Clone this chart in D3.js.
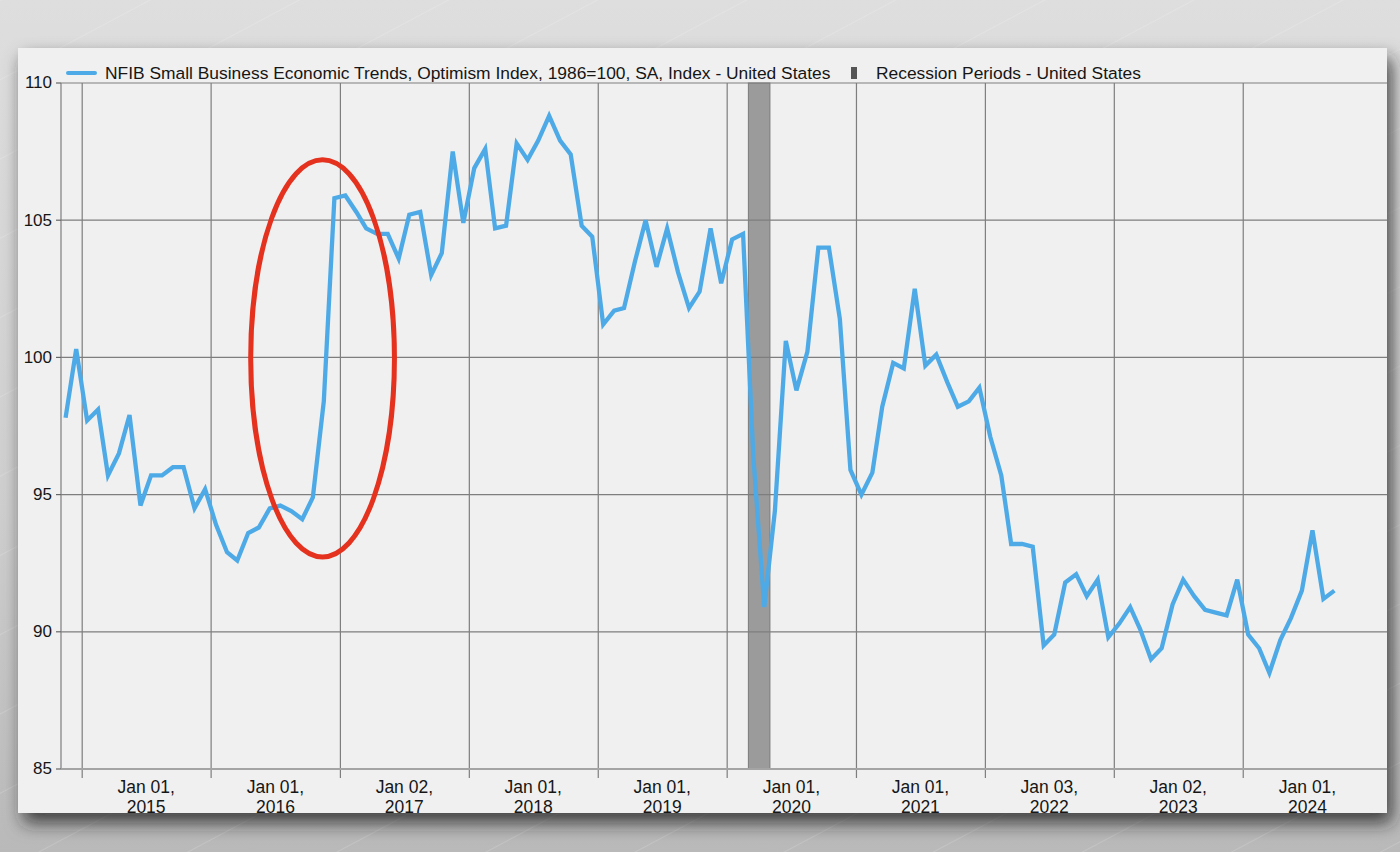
<!DOCTYPE html>
<html>
<head>
<meta charset="utf-8">
<script src="https://cdn.jsdelivr.net/npm/d3@7/dist/d3.min.js"></script>
<style>
  html, body { margin: 0; padding: 0; background: #d4d4d4; }
  svg { display: block; }
  text { font-family: "Liberation Sans", Arial, sans-serif; fill: #161616; }
</style>
</head>
<body>
<svg id="chart" width="1400" height="852"></svg>
<script>
// ---------------- DATA ----------------
const seriesName = "NFIB Small Business Economic Trends, Optimism Index, 1986=100, SA, Index - United States";
const recessionName = "Recession Periods - United States";
const firstMonth = "2014-11-15"; // monthly observations, plotted mid-month
const optimism = [
  97.8, 100.3,                                                          // 2014 Nov-Dec
  97.7, 98.1, 95.7, 96.5, 97.9, 94.6, 95.7, 95.7, 96.0, 96.0, 94.5, 95.2, // 2015
  93.9, 92.9, 92.6, 93.6, 93.8, 94.5, 94.6, 94.4, 94.1, 94.9, 98.4, 105.8, // 2016
  105.9, 105.3, 104.7, 104.5, 104.5, 103.6, 105.2, 105.3, 103.0, 103.8, 107.5, 104.9, // 2017
  106.9, 107.6, 104.7, 104.8, 107.8, 107.2, 107.9, 108.8, 107.9, 107.4, 104.8, 104.4, // 2018
  101.2, 101.7, 101.8, 103.5, 105.0, 103.3, 104.7, 103.1, 101.8, 102.4, 104.7, 102.7, // 2019
  104.3, 104.5, 96.4, 90.9, 94.4, 100.6, 98.8, 100.2, 104.0, 104.0, 101.4, 95.9,      // 2020
  95.0, 95.8, 98.2, 99.8, 99.6, 102.5, 99.7, 100.1, 99.1, 98.2, 98.4, 98.9,          // 2021
  97.1, 95.7, 93.2, 93.2, 93.1, 89.5, 89.9, 91.8, 92.1, 91.3, 91.9, 89.8,            // 2022
  90.3, 90.9, 90.1, 89.0, 89.4, 91.0, 91.9, 91.3, 90.8, 90.7, 90.6, 91.9,            // 2023
  89.9, 89.4, 88.5, 89.7, 90.5, 91.5, 93.7, 91.2, 91.5                               // 2024 Jan-Sep
];
const recessionStart = "2020-03-01";
const recessionEnd = "2020-05-01";
const xTickDates = ["2015-01-01","2016-01-01","2017-01-01","2018-01-01","2019-01-01",
                    "2020-01-01","2021-01-01","2022-01-01","2023-01-01","2024-01-01"];
const xTickLine1 = ["Jan 01,","Jan 01,","Jan 02,","Jan 01,","Jan 01,",
                    "Jan 01,","Jan 01,","Jan 03,","Jan 02,","Jan 01,"];
const xTickLine2 = ["2015","2016","2017","2018","2019","2020","2021","2022","2023","2024"];
const yTicks = [85, 90, 95, 100, 105, 110];
// annotation ellipse (data space): extents
const ellipseLeft = "2016-04-22", ellipseRight = "2017-06-03";
const ellipseTop = 107.2, ellipseBottom = 92.73;

// ---------------- DRAW ----------------
const parse = d3.utcParse("%Y-%m-%d");
const start = parse(firstMonth);
const data = optimism.map((v, i) => ({ date: d3.utcMonth.offset(start, i), value: v }));

const svg = d3.select("#chart");
const defs = svg.append("defs");

const bg = defs.append("linearGradient").attr("id", "bg").attr("x1", 0).attr("y1", 0).attr("x2", 0).attr("y2", 1);
bg.append("stop").attr("offset", "0%").attr("stop-color", "#dedede");
bg.append("stop").attr("offset", "60%").attr("stop-color", "#cecece");
bg.append("stop").attr("offset", "100%").attr("stop-color", "#b9b9b9");

const pat = defs.append("pattern").attr("id", "lines").attr("width", 70).attr("height", 70)
  .attr("patternUnits", "userSpaceOnUse").attr("patternTransform", "rotate(-28)");
pat.append("line").attr("x1", 0).attr("y1", 0).attr("x2", 70).attr("y2", 0)
  .attr("stroke", "#ffffff").attr("stroke-opacity", 0.3).attr("stroke-width", 1);

const sh = defs.append("filter").attr("id", "shadow").attr("x", "-5%").attr("y", "-5%").attr("width", "112%").attr("height", "120%");
sh.append("feDropShadow").attr("dx", 5).attr("dy", 10).attr("stdDeviation", 9)
  .attr("flood-color", "#222").attr("flood-opacity", 0.8);

svg.append("rect").attr("width", 1400).attr("height", 852).attr("fill", "url(#bg)");
svg.append("rect").attr("width", 1400).attr("height", 852).attr("fill", "url(#lines)");

const panel = { x: 18, y: 48, w: 1369, h: 765 };
svg.append("rect").attr("x", panel.x).attr("y", panel.y).attr("width", panel.w).attr("height", panel.h)
  .attr("fill", "#f0f0f0").attr("filter", "url(#shadow)");

const clip = defs.append("clipPath").attr("id", "panelClip");
clip.append("rect").attr("x", panel.x).attr("y", panel.y).attr("width", panel.w).attr("height", panel.h);
const g = svg.append("g").attr("clip-path", "url(#panelClip)");

const plot = { left: 61, right: 1387, top: 83, bottom: 769 };
const x = d3.scaleUtc().domain([parse("2014-11-02"), parse("2025-02-11")]).range([plot.left, plot.right]);
const y = d3.scaleLinear().domain([85, 110]).range([plot.bottom, plot.top]);

const gridColor = "#7e7e7e";

// recession band
g.append("rect")
  .attr("x", x(parse(recessionStart))).attr("width", x(parse(recessionEnd)) - x(parse(recessionStart)))
  .attr("y", plot.top).attr("height", plot.bottom - plot.top)
  .attr("fill", "#9b9b9b").attr("stroke", "#7a7a7a").attr("stroke-width", 1);

// horizontal gridlines
g.append("g").selectAll("line").data(yTicks.filter(t => t !== 85)).join("line")
  .attr("x1", plot.left).attr("x2", plot.right)
  .attr("y1", d => y(d)).attr("y2", d => y(d))
  .attr("stroke", gridColor).attr("stroke-width", 1.2);

// vertical gridlines (extend below axis as ticks)
const tickDates = xTickDates.map(parse);
g.append("g").selectAll("line").data(tickDates).join("line")
  .attr("x1", d => x(d)).attr("x2", d => x(d))
  .attr("y1", plot.top).attr("y2", plot.bottom + 9)
  .attr("stroke", gridColor).attr("stroke-width", 1.2);

// axes lines
g.append("line").attr("x1", plot.left).attr("x2", plot.left).attr("y1", plot.top).attr("y2", plot.bottom)
  .attr("stroke", gridColor).attr("stroke-width", 1.2);
g.append("line").attr("x1", plot.left).attr("x2", plot.right).attr("y1", plot.bottom).attr("y2", plot.bottom)
  .attr("stroke", "#a4a4a4").attr("stroke-width", 2);

// y ticks + labels
const yAx = g.append("g");
yAx.selectAll("line").data(yTicks).join("line")
  .attr("x1", plot.left - 5).attr("x2", plot.left).attr("y1", d => y(d)).attr("y2", d => y(d))
  .attr("stroke", "#666").attr("stroke-width", 1.2);
yAx.selectAll("text").data(yTicks).join("text")
  .attr("x", plot.left - 9).attr("y", d => y(d)).attr("dy", "0.32em")
  .attr("text-anchor", "end").attr("font-size", 17).text(d => d);

// x labels (centered mid-period)
const xl = g.append("g");
tickDates.forEach((d, i) => {
  const cx = x(d3.utcMonth.offset(d, 6));
  const t = xl.append("text").attr("x", cx).attr("text-anchor", "middle").attr("font-size", 17.5);
  t.append("tspan").attr("x", cx).attr("y", 793).text(xTickLine1[i]);
  t.append("tspan").attr("x", cx).attr("y", 813).text(xTickLine2[i]);
});

// series line
const line = d3.line().x(d => x(d.date)).y(d => y(d.value)).curve(d3.curveLinear);
g.append("path").datum(data).attr("d", line)
  .attr("fill", "none").attr("stroke", "#4daae6").attr("stroke-width", 4.3)
  .attr("stroke-linejoin", "miter").attr("stroke-linecap", "butt");

// annotation ellipse
const exL = x(parse(ellipseLeft)), exR = x(parse(ellipseRight));
const eyT = y(ellipseTop), eyB = y(ellipseBottom);
g.append("ellipse")
  .attr("cx", (exL + exR) / 2).attr("cy", (eyT + eyB) / 2)
  .attr("rx", (exR - exL) / 2).attr("ry", (eyB - eyT) / 2)
  .attr("fill", "none").attr("stroke", "#e4321f").attr("stroke-width", 5);

// legend
const lg = g.append("g");
lg.append("rect").attr("x", 66).attr("y", 71).attr("width", 31).attr("height", 4).attr("rx", 2)
  .attr("fill", "#4daae6");
lg.append("text").attr("x", 105).attr("y", 79).attr("font-size", 17.4).text(seriesName);
lg.append("rect").attr("x", 851).attr("y", 67).attr("width", 6).attr("height", 12).attr("fill", "#555");
lg.append("text").attr("x", 876).attr("y", 79).attr("font-size", 17.4).text(recessionName);
</script>
</body>
</html>
